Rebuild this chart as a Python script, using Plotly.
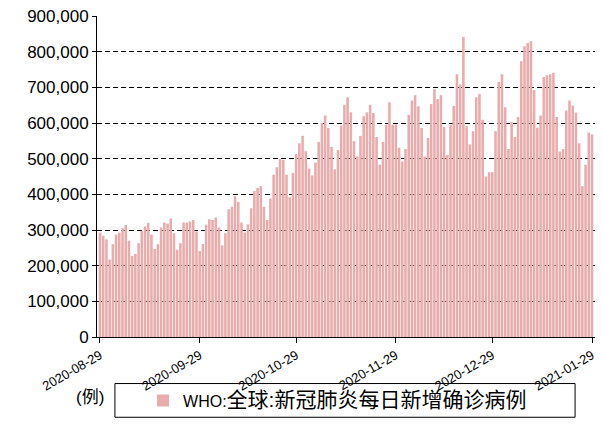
import pandas as pd
import plotly.graph_objects as go

# Daily new confirmed COVID-19 cases worldwide (WHO), 2020-08-29 .. 2021-01-29
start_date = "2020-08-29"
daily_cases = [
    293000, 284000, 274000, 217000, 260000, 287000, 293000, 305000, 314000, 270000,
    227000, 233000, 263000, 298000, 310000, 320000, 287000, 247000, 260000, 307000,
    321000, 318000, 332000, 291000, 245000, 263000, 321000, 321000, 324000, 328000,
    296000, 241000, 261000, 315000, 330000, 328000, 335000, 307000, 257000, 291000,
    358000, 365000, 395000, 379000, 321000, 293000, 316000, 361000, 409000, 418000,
    423000, 365000, 328000, 388000, 455000, 476000, 499000, 497000, 455000, 392000,
    460000, 513000, 543000, 564000, 521000, 472000, 453000, 489000, 547000, 600000,
    621000, 586000, 533000, 470000, 524000, 593000, 651000, 672000, 630000, 549000,
    506000, 564000, 619000, 630000, 651000, 628000, 561000, 483000, 547000, 595000,
    658000, 595000, 596000, 531000, 492000, 527000, 623000, 663000, 678000, 647000,
    586000, 506000, 558000, 653000, 695000, 667000, 678000, 589000, 510000, 595000,
    648000, 737000, 708000, 841000, 591000, 540000, 577000, 672000, 681000, 609000,
    450000, 462000, 462000, 577000, 715000, 737000, 644000, 527000, 603000, 561000,
    617000, 773000, 815000, 824000, 829000, 692000, 587000, 621000, 729000, 734000,
    737000, 741000, 617000, 520000, 527000, 635000, 663000, 649000, 629000, 543000,
    423000, 483000, 573000, 568000,
]
dates = pd.date_range(start_date, periods=len(daily_cases), freq="D")

x_tick_dates = ["2020-08-29", "2020-09-29", "2020-10-29", "2020-11-29", "2020-12-29", "2021-01-29"]
y_tick_values = [0, 100000, 200000, 300000, 400000, 500000, 600000, 700000, 800000, 900000]
series_prefix = "WHO:"
series_title = "全球:新冠肺炎每日新增确诊病例"
unit_label = "(例)"

bar_color = "#E8ACAC"
font_stack = "Liberation Sans, Arial, Noto Sans CJK SC, sans-serif"

# legend label: Latin prefix at the base size, CJK part set a little larger
legend_label = series_prefix + '<span style="font-size:21px">' + series_title + "</span>"

fig = go.Figure()
fig.add_trace(go.Bar(
    x=dates,
    y=daily_cases,
    name=legend_label,
    marker=dict(color=bar_color, line=dict(width=0)),
))

fig.update_layout(
    width=603,
    height=424,
    margin=dict(l=97, r=6, t=16, b=83),
    paper_bgcolor="white",
    plot_bgcolor="white",
    bargap=0.2,
    font=dict(family=font_stack, color="black"),
    showlegend=True,
    legend=dict(
        orientation="h",
        x=0.483, xanchor="center",
        y=-0.198, yanchor="middle",
        font=dict(size=16, family=font_stack, color="black"),
        bgcolor="rgba(0,0,0,0)",
        borderwidth=0,
    ),
)

fig.update_xaxes(
    type="date",
    range=["2020-08-28 01:40", "2021-01-29 22:20"],
    tickvals=x_tick_dates,
    ticktext=x_tick_dates,
    tickangle=-30,
    tickfont=dict(size=13, family=font_stack),
    showline=True, linecolor="black", linewidth=1,
    ticks="outside", ticklen=5, tickcolor="black",
    showgrid=False, zeroline=False,
)

fig.update_yaxes(
    range=[0, 900000],
    tickvals=y_tick_values,
    tickformat=",",
    tickfont=dict(size=17, family=font_stack),
    showline=True, linecolor="black", linewidth=1,
    ticks="outside", ticklen=4, tickcolor="black",
    showgrid=True, gridcolor="black", gridwidth=1, griddash="5px,3px",
    zeroline=False,
)

# frame around the legend entry
fig.add_shape(
    type="rect", xref="paper", yref="paper",
    x0=0.036, x1=0.960, y0=-0.250, y1=-0.145,
    line=dict(color="black", width=1),
    fillcolor="rgba(0,0,0,0)",
)

# unit label to the left of the legend
fig.add_annotation(
    text=unit_label, xref="paper", yref="paper",
    x=0.018, y=-0.188, xanchor="right", yanchor="middle",
    showarrow=False, font=dict(size=17, family=font_stack, color="black"),
)

fig.write_html("out.html")
